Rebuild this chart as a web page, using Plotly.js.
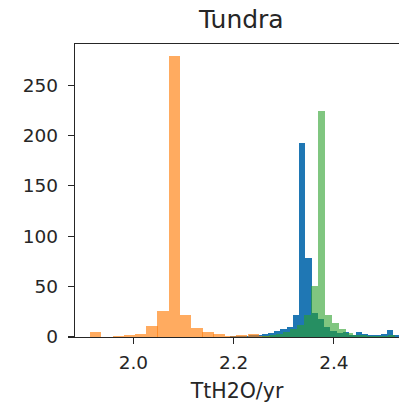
<!DOCTYPE html>
<html>
<head>
<meta charset="utf-8">
<script src="https://cdn.plot.ly/plotly-3.0.1.min.js"></script>
<style>html,body{margin:0;padding:0;background:#fff;}#chart{width:399px;height:403px;}</style>
</head>
<body>
<div id="chart"></div>
<script>
// Blue series: bin centres and counts
var blueX = [2.1995, 2.212, 2.2245, 2.237, 2.2495, 2.262, 2.2745, 2.287, 2.2995, 2.312, 2.3245, 2.337, 2.3495, 2.362, 2.3745, 2.387, 2.3995, 2.412, 2.4245, 2.437, 2.4495, 2.462, 2.4745, 2.487, 2.4995, 2.512, 2.5245];
var blueY = [1, 1, 1, 2, 2, 3, 4, 6, 8, 10, 22, 193, 78, 24, 18, 10, 6, 4, 5, 2, 5, 3, 2, 2, 3, 7, 2];
// Orange series
var orangeX = [1.925, 1.947, 1.970, 1.992, 2.015, 2.037, 2.059, 2.082, 2.104, 2.127, 2.149, 2.171, 2.194, 2.216, 2.239, 2.261];
var orangeY = [5, 0, 1, 2, 3, 11, 26, 279, 22, 9, 5, 3, 1, 2, 3, 1];
// Green series
var greenX = [2.263, 2.277, 2.291, 2.305, 2.319, 2.333, 2.347, 2.361, 2.375, 2.389, 2.403, 2.417, 2.431, 2.445, 2.459, 2.473, 2.487, 2.501, 2.515];
var greenY = [1, 2, 3, 5, 8, 12, 22, 51, 224, 22, 14, 8, 4, 2, 2, 1, 1, 1, 2];

var titleText = 'Tundra';
var xTitle = 'TtH2O/yr';
var xTickVals = [2.0, 2.2, 2.4];
var xTickText = ['2.0', '2.2', '2.4'];
var yTickVals = [0, 50, 100, 150, 200, 250];

var font = 'DejaVu Sans, sans-serif';
var traces = [
  {type: 'bar', x: blueX, y: blueY, width: 0.0125, marker: {color: 'rgba(31,119,180,1)', line: {width: 0}}},
  {type: 'bar', x: orangeX, y: orangeY, width: 0.0224, marker: {color: 'rgba(255,127,14,0.66)', line: {width: 0}}},
  {type: 'bar', x: greenX, y: greenY, width: 0.014, marker: {color: 'rgba(44,160,44,0.6)', line: {width: 0}}}
];
var layout = {
  width: 399, height: 403,
  margin: {l: 75, r: 0, t: 44, b: 66, pad: 0},
  paper_bgcolor: '#fff', plot_bgcolor: '#fff',
  barmode: 'overlay', bargap: 0,
  showlegend: false,
  font: {family: font, color: '#262626'},
  title: {text: titleText, font: {family: font, size: 25, color: '#262626'}, x: 0.605, xanchor: 'center', xref: 'container', y: 0.953, yanchor: 'middle', yref: 'container'},
  xaxis: {
    range: [1.8836, 2.530], tickvals: xTickVals, ticktext: xTickText,
    ticks: 'outside', ticklen: 6, tickwidth: 1.2, tickcolor: '#262626',
    showline: true, linecolor: '#262626', linewidth: 1.3, mirror: true,
    showgrid: false, zeroline: false,
    tickfont: {family: font, size: 18.5, color: '#262626'},
    ticklabelstandoff: 2,
    title: {text: xTitle, font: {family: font, size: 20.5, color: '#262626'}, standoff: 12}
  },
  yaxis: {
    range: [0, 290.8], tickvals: yTickVals,
    ticks: 'outside', ticklen: 6, tickwidth: 1.2, tickcolor: '#262626',
    showline: true, linecolor: '#262626', linewidth: 1.3, mirror: false,
    showgrid: false, zeroline: false,
    tickfont: {family: font, size: 18.5, color: '#262626'},
    ticklabelstandoff: 6
  }
};
Plotly.newPlot('chart', traces, layout, {displayModeBar: false, staticPlot: true});
</script>
</body>
</html>
